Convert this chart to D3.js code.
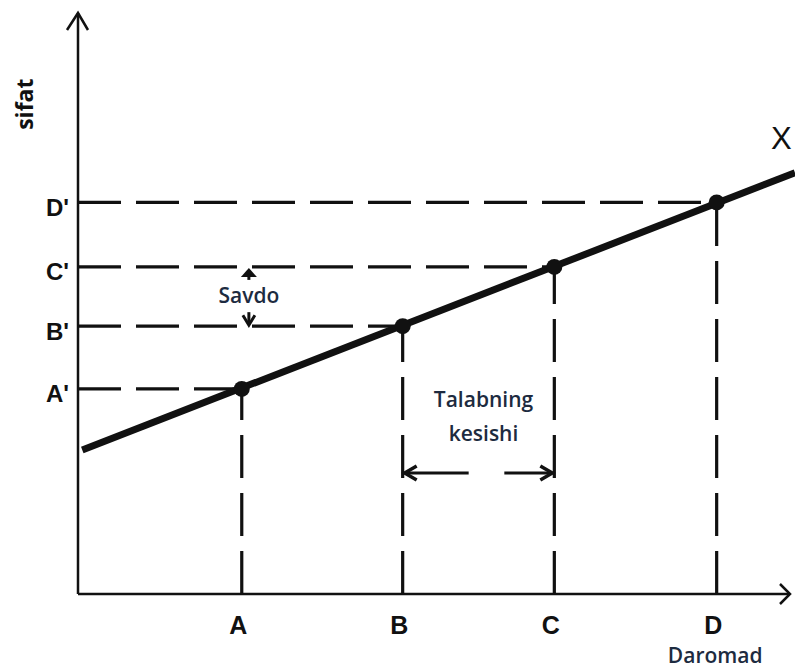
<!DOCTYPE html>
<html><head><meta charset="utf-8">
<script src="https://cdn.jsdelivr.net/npm/d3@7"></script>
<style>
html,body{margin:0;padding:0;background:#fff;}
svg{display:block;}
</style>
</head><body>
<svg id="c" width="795" height="668"></svg>
<script>
// ---- data ----
const categories = ["A", "B", "C", "D"];
const incomeValues = [23.0, 45.6, 66.9, 89.7];     // x (Daromad)
const qualityValues = [35.3, 46.1, 56.3, 67.4];    // y (sifat)
const qualityLabels = ["A'", "B'", "C'", "D'"];
const lineX = [0.6, 100.7];
const lineY = [24.8, 72.5];
const xTitle = "Daromad";
const yTitle = "sifat";
const lineLabel = "X";
const noteSavdo = "Savdo";
const noteTalab = ["Talabning", "kesishi"];

const svg = d3.select("#c");
const x = d3.scaleLinear().domain([0, 100]).range([78, 790]);
const y = d3.scaleLinear().domain([0, 100]).range([594, 13]);
const ink = "#111";
const navy = "#1d2b40";

// axes lines with arrowheads
svg.append("line").attr("x1", x(0)).attr("y1", y(0)).attr("x2", x(0)).attr("y2", y(100))
  .attr("stroke", ink).attr("stroke-width", 2.5);
svg.append("line").attr("x1", x(0)).attr("y1", y(0)).attr("x2", x(100)).attr("y2", y(0))
  .attr("stroke", ink).attr("stroke-width", 2.5);
svg.append("path").attr("d", `M${x(0)-11},${y(100)+17} L${x(0)},${y(100)} L${x(0)+10},${y(100)+17}`)
  .attr("fill", "none").attr("stroke", ink).attr("stroke-width", 2.5).attr("stroke-linejoin","miter");
svg.append("path").attr("d", `M${x(100)-10},${y(0)-10} L${x(100)},${y(0)} L${x(100)-10},${y(0)+10}`)
  .attr("fill", "none").attr("stroke", ink).attr("stroke-width", 2.5);

const pts = categories.map((c, i) => ({c, xv: incomeValues[i], yv: qualityValues[i], yl: qualityLabels[i]}));

// dashed guides
svg.append("g").selectAll("line.h").data(pts).join("line")
  .attr("x1", x(0)).attr("x2", d => x(d.xv)).attr("y1", d => y(d.yv)).attr("y2", d => y(d.yv))
  .attr("stroke", ink).attr("stroke-width", 3.2).attr("stroke-dasharray", "43,15");
svg.append("g").selectAll("line.v").data(pts).join("line")
  .attr("x1", d => x(d.xv)).attr("x2", d => x(d.xv)).attr("y1", y(0)).attr("y2", d => y(d.yv))
  .attr("stroke", ink).attr("stroke-width", 3.2).attr("stroke-dasharray", "43,15");

// main line
const line = d3.line().x(d => x(d[0])).y(d => y(d[1]));
svg.append("path").datum(lineX.map((v, i) => [v, lineY[i]])).attr("d", line)
  .attr("fill", "none").attr("stroke", ink).attr("stroke-width", 7);

// points
svg.append("g").selectAll("circle").data(pts).join("circle")
  .attr("cx", d => x(d.xv)).attr("cy", d => y(d.yv)).attr("r", 8).attr("fill", ink);

// x labels via axis
const xAxis = d3.axisBottom(x).tickValues(incomeValues).tickSize(0)
  .tickFormat((d, i) => categories[i]);
const gx = svg.append("g").attr("transform", `translate(-4,${y(0)})`).call(xAxis);
gx.select(".domain").remove();
gx.selectAll("text").attr("dy", 0).attr("y", 40)
  .attr("font-family", "Liberation Sans, Arial, sans-serif").attr("font-size", 25)
  .attr("font-weight", "bold").attr("fill", ink);

// y labels via axis
const yAxis = d3.axisLeft(y).tickValues(qualityValues).tickSize(0)
  .tickFormat((d, i) => qualityLabels[i]);
const gy = svg.append("g").attr("transform", `translate(${x(0)},0)`).call(yAxis);
gy.select(".domain").remove();
gy.selectAll("text").attr("dy", 13).attr("x", -9)
  .attr("font-family", "Liberation Sans, Arial, sans-serif").attr("font-size", 24)
  .attr("font-weight", "bold").attr("fill", ink);

// line label X
svg.append("text").attr("x", 771).attr("y", y(76.6)).text(lineLabel)
  .attr("font-family", "Liberation Sans, Arial, sans-serif").attr("font-size", 31).attr("fill", ink);

// titles
svg.append("text").attr("transform", `translate(33,${y(84.3)}) rotate(-90)`)
  .attr("text-anchor", "middle").text(yTitle)
  .attr("font-family", "Open Sans, sans-serif").attr("font-size", 23).attr("font-weight", "bold").attr("fill", ink);
svg.append("text").attr("x", x(89.5)).attr("y", 663).attr("text-anchor", "middle").text(xTitle)
  .attr("font-family", "Open Sans, sans-serif").attr("font-size", 21).attr("font-weight", 600).attr("fill", navy);

// Savdo annotation
const sx = x(24.0);
const yC = y(qualityValues[2]), yB = y(qualityValues[1]);
svg.append("path").attr("d", `M${sx},${yC+1} L${sx-8},${yC+10} L${sx+8},${yC+10} Z`).attr("fill", ink);
svg.append("line").attr("x1", sx).attr("x2", sx).attr("y1", yC+8).attr("y2", yC+13).attr("stroke", ink).attr("stroke-width", 3);
svg.append("path").attr("d", `M${sx-6},${yB-11} L${sx},${yB-1} L${sx+6},${yB-11}`).attr("fill", "none").attr("stroke", ink).attr("stroke-width", 3);
svg.append("line").attr("x1", sx).attr("x2", sx).attr("y1", yB-14).attr("y2", yB-2).attr("stroke", ink).attr("stroke-width", 3);
svg.append("text").attr("x", sx).attr("y", yC+36).attr("text-anchor", "middle").text(noteSavdo)
  .attr("font-family", "Open Sans, sans-serif").attr("font-size", 21).attr("font-weight", 600).attr("fill", navy);

// Talabning kesishi annotation
const xB = x(incomeValues[1]), xC = x(incomeValues[2]);
const ay = 473;
svg.append("line").attr("x1", xB+2).attr("x2", xB+66).attr("y1", ay).attr("y2", ay).attr("stroke", ink).attr("stroke-width", 3);
svg.append("line").attr("x1", xC-50).attr("x2", xC-2).attr("y1", ay).attr("y2", ay).attr("stroke", ink).attr("stroke-width", 3);
svg.append("path").attr("d", `M${xB+14},${ay-7} L${xB+2},${ay} L${xB+14},${ay+7}`).attr("fill", "none").attr("stroke", ink).attr("stroke-width", 3.5);
svg.append("path").attr("d", `M${xC-14},${ay-7} L${xC-2},${ay} L${xC-14},${ay+7}`).attr("fill", "none").attr("stroke", ink).attr("stroke-width", 3.5);
const tmid = (xB + xC) / 2 + 5;
svg.append("text").attr("x", tmid).attr("y", 407).attr("text-anchor", "middle").text(noteTalab[0])
  .attr("font-family", "Open Sans, sans-serif").attr("font-size", 21).attr("font-weight", 600).attr("fill", navy);
svg.append("text").attr("x", tmid).attr("y", 441).attr("text-anchor", "middle").text(noteTalab[1])
  .attr("font-family", "Open Sans, sans-serif").attr("font-size", 21).attr("font-weight", 600).attr("fill", navy);
</script>
</body></html>
